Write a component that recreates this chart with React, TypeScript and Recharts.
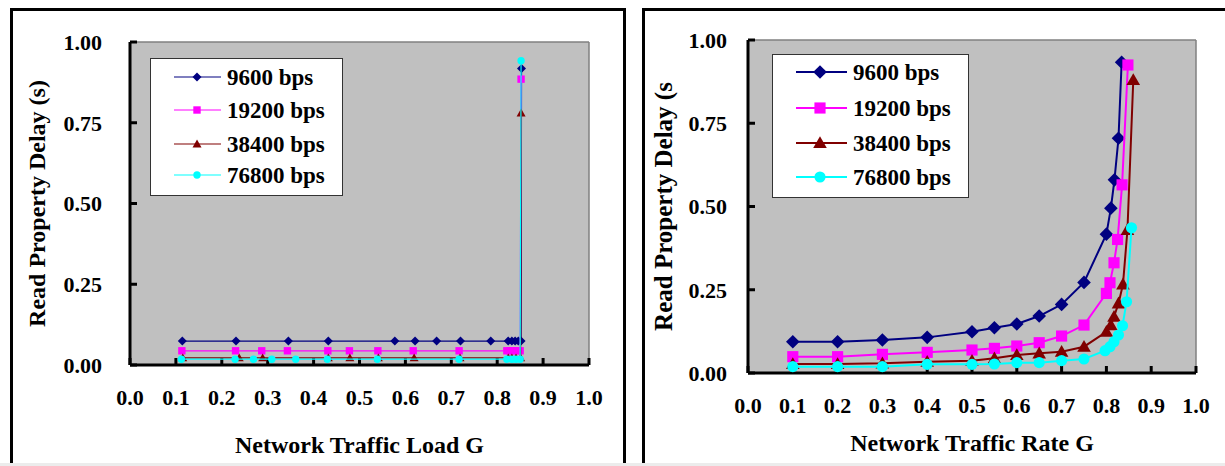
import React from 'react';
import { ScatterChart, Scatter, XAxis, YAxis, CartesianGrid, ReferenceLine } from 'recharts';

const FONT = "'Liberation Serif', 'Times New Roman', serif";

const X_TICKS = [0, 0.1, 0.2, 0.3, 0.4, 0.5, 0.6, 0.7, 0.8, 0.9, 1.0];
const Y_TICKS = [0, 0.25, 0.5, 0.75, 1.0];

const SERIES_NAMES = ['9600 bps', '19200 bps', '38400 bps', '76800 bps'];
const SERIES_COLORS = ['#000080', '#FF00FF', '#800000', '#00FFFF'];
const SERIES_MARKERS = ['diamond', 'square', 'triangle', 'circle'];

// Left chart: Network Traffic Load G
const loadG9600 = [0.114, 0.231, 0.345, 0.432, 0.577, 0.621, 0.668, 0.72, 0.786, 0.824, 0.832, 0.839, 0.846, 0.852, 0.853];
const loadDelay9600 = [0.074, 0.074, 0.074, 0.074, 0.074, 0.074, 0.074, 0.074, 0.074, 0.074, 0.074, 0.074, 0.074, 0.074, 0.918];
const loadG19200 = [0.113, 0.23, 0.287, 0.343, 0.431, 0.478, 0.54, 0.617, 0.717, 0.821, 0.828, 0.835, 0.843, 0.85, 0.852];
const loadDelay19200 = [0.044, 0.044, 0.044, 0.044, 0.044, 0.044, 0.044, 0.044, 0.044, 0.044, 0.044, 0.044, 0.044, 0.044, 0.885];
const loadG38400 = [0.115, 0.238, 0.289, 0.432, 0.479, 0.541, 0.619, 0.719, 0.824, 0.832, 0.841, 0.851, 0.852];
const loadDelay38400 = [0.022, 0.022, 0.022, 0.022, 0.022, 0.022, 0.022, 0.022, 0.022, 0.022, 0.022, 0.022, 0.78];
const loadG76800 = [0.112, 0.229, 0.269, 0.309, 0.361, 0.43, 0.539, 0.717, 0.821, 0.832, 0.841, 0.85, 0.852];
const loadDelay76800 = [0.018, 0.018, 0.018, 0.018, 0.018, 0.018, 0.018, 0.018, 0.018, 0.018, 0.018, 0.018, 0.942];

// Right chart: Network Traffic Rate G
const rateG9600 = [0.1, 0.2, 0.3, 0.4, 0.5, 0.55, 0.6, 0.65, 0.7, 0.75, 0.8, 0.81, 0.818, 0.827, 0.834];
const rateDelay9600 = [0.094, 0.094, 0.099, 0.107, 0.124, 0.136, 0.147, 0.171, 0.206, 0.272, 0.417, 0.495, 0.58, 0.705, 0.933];
const rateG19200 = [0.1, 0.2, 0.3, 0.4, 0.5, 0.55, 0.6, 0.65, 0.7, 0.75, 0.8, 0.808, 0.817, 0.825, 0.835, 0.848];
const rateDelay19200 = [0.049, 0.049, 0.056, 0.062, 0.069, 0.074, 0.081, 0.091, 0.111, 0.144, 0.239, 0.271, 0.331, 0.401, 0.565, 0.925];
const rateG38400 = [0.1, 0.2, 0.3, 0.4, 0.5, 0.55, 0.6, 0.65, 0.7, 0.75, 0.8, 0.81, 0.817, 0.827, 0.837, 0.847, 0.86];
const rateDelay38400 = [0.027, 0.027, 0.029, 0.034, 0.037, 0.044, 0.054, 0.059, 0.064, 0.079, 0.124, 0.144, 0.169, 0.209, 0.266, 0.43, 0.88];
const rateG76800 = [0.1, 0.2, 0.3, 0.4, 0.5, 0.55, 0.6, 0.65, 0.7, 0.75, 0.797, 0.808, 0.817, 0.827, 0.836, 0.845, 0.856];
const rateDelay76800 = [0.019, 0.019, 0.019, 0.026, 0.026, 0.027, 0.031, 0.031, 0.037, 0.042, 0.067, 0.079, 0.094, 0.114, 0.142, 0.214, 0.436];

const zip = (xs: number[], ys: number[]) => xs.map((x, i) => ({ x, y: ys[i] }));

const LOAD_DATA = [
  zip(loadG9600, loadDelay9600),
  zip(loadG19200, loadDelay19200),
  zip(loadG38400, loadDelay38400),
  zip(loadG76800, loadDelay76800),
];
const RATE_DATA = [
  zip(rateG9600, rateDelay9600),
  zip(rateG19200, rateDelay19200),
  zip(rateG38400, rateDelay38400),
  zip(rateG76800, rateDelay76800),
];

const TEXT_STYLE = { fontFamily: FONT, fontWeight: 700 };

function Marker({ kind, cx, cy, s, color }: { kind: string; cx: number; cy: number; s: number; color: string }) {
  if (cx == null || cy == null) return null;
  switch (kind) {
    case 'diamond':
      return <polygon points={`${cx},${cy - s} ${cx + s},${cy} ${cx},${cy + s} ${cx - s},${cy}`} fill={color} />;
    case 'square': {
      const h = s * 0.82;
      return <rect x={cx - h} y={cy - h} width={2 * h} height={2 * h} fill={color} />;
    }
    case 'triangle':
      return <polygon points={`${cx},${cy - s} ${cx + s},${cy + s * 0.75} ${cx - s},${cy + s * 0.75}`} fill={color} />;
    default:
      return <circle cx={cx} cy={cy} r={s * 0.82} fill={color} />;
  }
}

type PanelProps = {
  width: number;
  height: number;
  margin: { top: number; right: number; bottom: number; left: number };
  yAxisWidth: number;
  xAxisHeight: number;
  data: { x: number; y: number }[][];
  yTickMargin: number;
  xTickMargin: number;
  xTitle: string;
  yTitle: string;
  xTitleDy: number;
  yTitleX: number;
  titleSize: number;
  yTitleSize: number;
  markerSize: number;
  lineWidth: number;
};

function Panel(p: PanelProps) {
  const tickStyle = { fill: '#000', fontSize: 22, fontWeight: 700, fontFamily: FONT, style: TEXT_STYLE };
  return (
    <ScatterChart width={p.width} height={p.height} margin={p.margin} style={TEXT_STYLE}>
      <CartesianGrid horizontal={false} vertical={false} fill="#C0C0C0" fillOpacity={1} />
      <ReferenceLine y={1} stroke="#808080" strokeWidth={1.5} />
      <ReferenceLine x={1} stroke="#808080" strokeWidth={1.5} />
      <XAxis
        type="number"
        dataKey="x"
        domain={[0, 1]}
        ticks={X_TICKS}
        interval={0}
        tickFormatter={(v: number) => v.toFixed(1)}
        height={p.xAxisHeight}
        tickSize={-7}
        tickMargin={p.xTickMargin}
        axisLine={{ stroke: '#000', strokeWidth: 3 }}
        tickLine={{ stroke: '#000', strokeWidth: 3 }}
        tick={tickStyle}
        label={(lp: any) => {
          const vb = lp.viewBox;
          return (
            <text
              x={vb.x + vb.width / 2}
              y={vb.y + p.xTitleDy}
              textAnchor="middle"
              dominantBaseline="central"
              style={{ ...TEXT_STYLE, fontSize: p.titleSize }}
              fill="#000"
            >
              {p.xTitle}
            </text>
          );
        }}
      />
      <YAxis
        type="number"
        dataKey="y"
        domain={[0, 1]}
        ticks={Y_TICKS}
        interval={0}
        tickFormatter={(v: number) => v.toFixed(2)}
        width={p.yAxisWidth}
        tickSize={-7}
        tickMargin={p.yTickMargin}
        axisLine={{ stroke: '#000', strokeWidth: 3 }}
        tickLine={{ stroke: '#000', strokeWidth: 3 }}
        tick={tickStyle}
        label={(lp: any) => {
          const vb = lp.viewBox;
          const x = vb.x + p.yTitleX;
          const y = vb.y + vb.height / 2;
          return (
            <text
              x={x}
              y={y}
              transform={`rotate(-90, ${x}, ${y})`}
              textAnchor="middle"
              dominantBaseline="central"
              style={{ ...TEXT_STYLE, fontSize: p.yTitleSize }}
              fill="#000"
            >
              {p.yTitle}
            </text>
          );
        }}
      />
      {p.data.map((d, i) => (
        <Scatter
          key={SERIES_NAMES[i]}
          name={SERIES_NAMES[i]}
          data={d}
          fill={SERIES_COLORS[i]}
          line={{ stroke: SERIES_COLORS[i], strokeWidth: p.lineWidth }}
          lineType="joint"
          isAnimationActive={false}
          shape={(sp: any) => (
            <Marker kind={SERIES_MARKERS[i]} cx={sp.cx} cy={sp.cy} s={p.markerSize} color={SERIES_COLORS[i]} />
          )}
        />
      ))}
    </ScatterChart>
  );
}

type LegendProps = {
  left: number;
  top: number;
  width: number;
  height: number;
  rows: number[];
  lineX1: number;
  lineX2: number;
  markerX: number;
  textX: number;
  fontSize: number;
  markerSize: number;
  lineWidth: number;
};

function LegendBox(l: LegendProps) {
  return (
    <div
      style={{
        position: 'absolute',
        left: l.left,
        top: l.top,
        width: l.width,
        height: l.height,
        background: '#fff',
        border: '1px solid #333',
        boxSizing: 'border-box',
      }}
    >
      <svg width={l.width - 2} height={l.height - 2} style={{ position: 'absolute', left: 0, top: 0 }}>
        {SERIES_NAMES.map((name, i) => (
          <g key={name}>
            <line x1={l.lineX1} x2={l.lineX2} y1={l.rows[i]} y2={l.rows[i]} stroke={SERIES_COLORS[i]} strokeWidth={l.lineWidth} />
            <Marker kind={SERIES_MARKERS[i]} cx={l.markerX} cy={l.rows[i]} s={l.markerSize} color={SERIES_COLORS[i]} />
            <text
              x={l.textX}
              y={l.rows[i]}
              dominantBaseline="central"
              style={{ ...TEXT_STYLE, fontSize: l.fontSize }}
              fill="#000"
            >
              {name}
            </text>
          </g>
        ))}
      </svg>
    </div>
  );
}

export default function App() {
  return (
    <div style={{ position: 'fixed', left: 0, top: 0, width: 1225, height: 466, background: '#fff', overflow: 'hidden', fontFamily: FONT }}>
      <div style={{ position: 'absolute', left: 10, top: 8, width: 616, height: 480, border: '3px solid #000', boxSizing: 'border-box' }} />
      <div style={{ position: 'absolute', left: 642, top: 8, width: 700, height: 480, border: '3px solid #000', boxSizing: 'border-box' }} />

      <div style={{ position: 'absolute', left: 0, top: 0 }}>
        <Panel
          width={622}
          height={466}
          margin={{ top: 42, right: 33, bottom: 0, left: 0 }}
          yAxisWidth={130}
          xAxisHeight={101}
          data={LOAD_DATA}
          yTickMargin={35}
          xTickMargin={31}
          xTitle="Network Traffic Load G"
          yTitle="Read Property Delay (s)"
          xTitleDy={80}
          yTitleX={37}
          titleSize={24}
          yTitleSize={24}
          markerSize={4.5}
          lineWidth={1.2}
        />
      </div>
      <LegendBox
        left={150}
        top={58}
        width={193}
        height={138}
        rows={[18, 51, 85, 116]}
        lineX1={23}
        lineX2={70}
        markerX={46}
        textX={76}
        fontSize={23}
        markerSize={4.5}
        lineWidth={1.2}
      />

      <div style={{ position: 'absolute', left: 623, top: 0 }}>
        <Panel
          width={602}
          height={466}
          margin={{ top: 40, right: 29, bottom: 0, left: 0 }}
          yAxisWidth={125}
          xAxisHeight={93}
          data={RATE_DATA}
          yTickMargin={28}
          xTickMargin={31}
          xTitle="Network Traffic Rate G"
          yTitle="Read Property Delay (s"
          xTitleDy={70}
          yTitleX={40}
          titleSize={24}
          yTitleSize={25}
          markerSize={6.8}
          lineWidth={2}
        />
      </div>
      <LegendBox
        left={772}
        top={54}
        width={197}
        height={144}
        rows={[17, 53, 88, 122]}
        lineX1={23}
        lineX2={74}
        markerX={47}
        textX={80}
        fontSize={23}
        markerSize={6.8}
        lineWidth={2}
      />

      <div style={{ position: 'absolute', left: 0, top: 463, width: 1225, height: 3, background: '#ececec' }} />
    </div>
  );
}
